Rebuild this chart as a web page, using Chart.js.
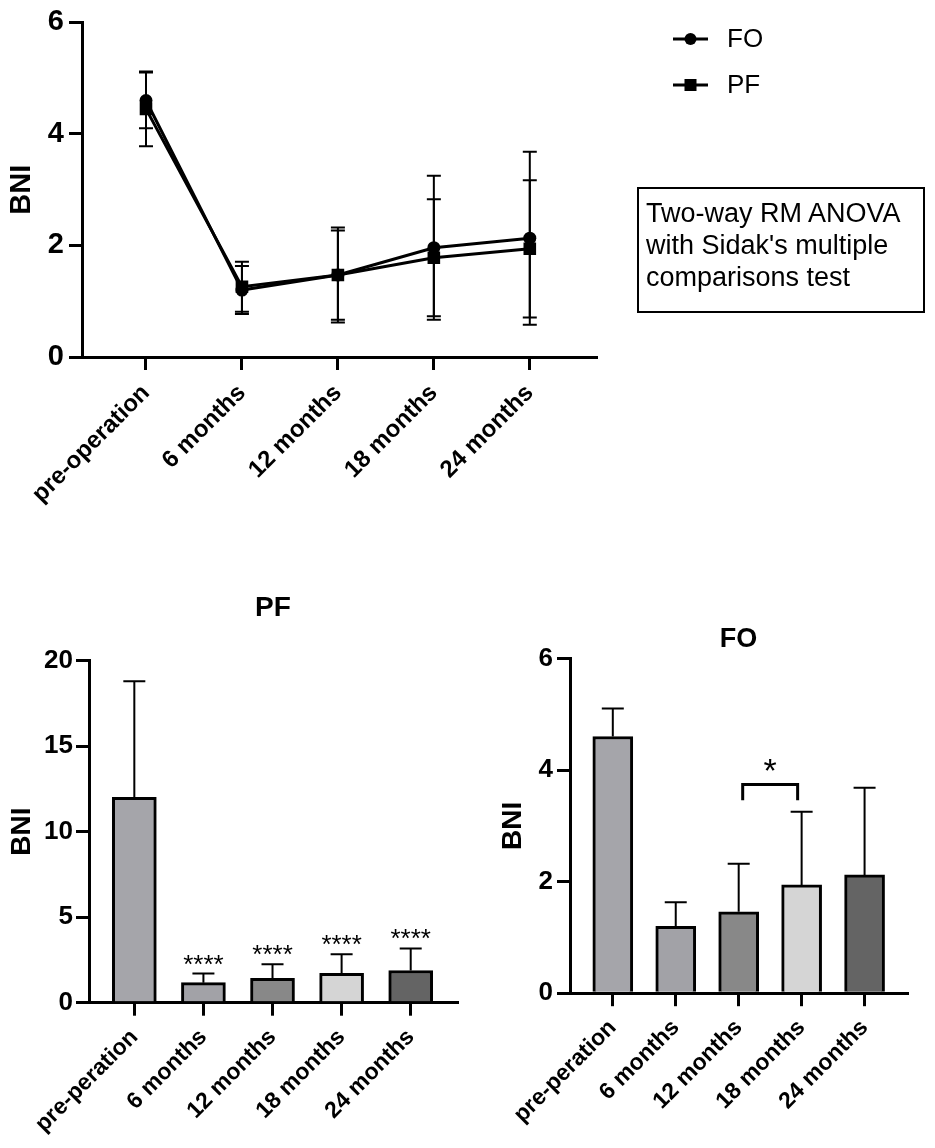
<!DOCTYPE html>
<html>
<head>
<meta charset="utf-8">
<script src="https://cdn.jsdelivr.net/npm/chart.js@4.4.1/dist/chart.umd.min.js"></script>
<style>
  html, body { margin:0; padding:0; background:#fff; width:935px; height:1148px; overflow:hidden; }
  body { position:relative; font-family:'Liberation Sans', Arial, Helvetica, sans-serif; }
  canvas { position:absolute; }
  #cTop { left:0; top:0; }
  #cPF { left:0; top:580px; }
  #cFO { left:480px; top:580px; }
  #note { position:absolute; left:637px; top:187px; width:288px; height:126px; box-sizing:border-box;
          border:2px solid #000; padding:8px 0 0 7px; font-size:27px; line-height:32px; color:#000; white-space:nowrap; }
</style>
</head>
<body>
<canvas id="cTop" width="935" height="560" style="width:935px;height:560px"></canvas>
<canvas id="cPF" width="490" height="568" style="width:490px;height:568px"></canvas>
<canvas id="cFO" width="455" height="568" style="width:455px;height:568px"></canvas>
<div id="note">Two-way RM ANOVA<br>with Sidak's multiple<br>comparisons test</div>
<script>
// ---------------- data ----------------
const topCategories = ['pre-operation', '6 months', '12 months', '18 months', '24 months'];
const barCategories = ['pre-peration', '6 months', '12 months', '18 months', '24 months'];
const seriesNames = ['FO', 'PF'];

// line chart (mean, SD)
const foLineMean = [4.6, 1.2, 1.47, 1.96, 2.13];
const foLineSD   = [0.5, 0.43, 0.85, 1.29, 1.55];
const pfLineMean = [4.45, 1.26, 1.47, 1.78, 1.94];
const pfLineSD   = [0.67, 0.45, 0.8, 1.05, 1.23];

// PF bar chart
const pfBarMean = [12, 1.17, 1.42, 1.72, 1.88];
const pfBarSD   = [6.8, 0.53, 0.83, 1.11, 1.29];
const pfSignif  = ['', '****', '****', '****', '****'];

// FO bar chart
const foBarMean = [4.6, 1.2, 1.46, 1.94, 2.12];
const foBarSD   = [0.5, 0.43, 0.86, 1.31, 1.56];
const foBracketFrom = 2, foBracketTo = 3, foBracketTop = 3.74, foBracketLeg = 3.46, foBracketLabel = '*';

// tick values
const yTicksTop = [0, 2, 4, 6];
const yTicksPF  = [0, 5, 10, 15, 20];
const yTicksFO  = [0, 2, 4, 6];

// ---------------- styles ----------------
const barFill = ['#a5a5aa', '#a2a2a7', '#888888', '#d5d5d5', '#646464'];
const FONT = "'Liberation Sans', Arial, Helvetica, sans-serif";
Chart.defaults.font.family = FONT;
Chart.defaults.color = '#000';

const pts = arr => arr.map((v, i) => ({ x: i, y: v }));

function xAxis(cats, min, max, size, height, pad) {
  return {
    type: 'linear', min, max, offset: false,
    afterBuildTicks: ax => { ax.ticks = cats.map((_, i) => ({ value: i })); },
    afterFit: s => { s.height = height; },
    ticks: { callback: v => cats[v], autoSkip: false, maxRotation: 45, minRotation: 45,
             color: '#000', font: { size, weight: 'bold' }, padding: pad },
    grid: { offset: false, drawOnChartArea: false, drawTicks: true, tickLength: 13, color: '#000', lineWidth: 3 },
    border: { display: true, color: '#000', width: 3 }
  };
}
function yAxis(tickVals, size, width, titleSize, titlePad, tickPad) {
  return {
    type: 'linear', min: tickVals[0], max: tickVals[tickVals.length - 1],
    afterBuildTicks: ax => { ax.ticks = tickVals.map(v => ({ value: v })); },
    afterFit: s => { s.width = width; },
    ticks: { color: '#000', font: { size, weight: 'bold' }, padding: tickPad },
    grid: { drawOnChartArea: false, drawTicks: true, tickLength: 13, color: '#000', lineWidth: 3 },
    border: { display: true, color: '#000', width: 3 },
    title: { display: true, text: 'BNI', color: '#000', font: { size: titleSize, weight: 'bold' },
             padding: { top: titlePad, bottom: 0 } }
  };
}

function errorBars(id, sdArrays, opts) {
  const hook = opts.before ? 'beforeDatasetsDraw' : 'afterDatasetsDraw';
  return {
    id,
    [hook](chart) {
      const ctx = chart.ctx, ys = chart.scales.y;
      chart.data.datasets.forEach((ds, di) => {
        const meta = chart.getDatasetMeta(di);
        const sd = sdArrays[di];
        meta.data.forEach((el, i) => {
          const v = ds.data[i].y;
          const x = el.x;
          const yT = ys.getPixelForValue(v + sd[i]);
          const yB = ys.getPixelForValue(opts.upOnly ? v : v - sd[i]);
          ctx.save();
          ctx.strokeStyle = '#000';
          ctx.lineWidth = opts.lineWidth;
          ctx.beginPath();
          ctx.moveTo(x, yT); ctx.lineTo(x, yB);
          ctx.moveTo(x - opts.cap / 2, yT); ctx.lineTo(x + opts.cap / 2, yT);
          if (!opts.upOnly) { ctx.moveTo(x - opts.cap / 2, yB); ctx.lineTo(x + opts.cap / 2, yB); }
          ctx.stroke();
          ctx.restore();
        });
      });
    }
  };
}

// ---------------- top line chart ----------------
const legendPlugin = {
  id: 'sideLegend',
  afterDraw(chart) {
    const ctx = chart.ctx;
    chart.data.datasets.forEach((ds, i) => {
      const y = 39 + i * 46;
      ctx.save();
      ctx.strokeStyle = '#000'; ctx.fillStyle = '#000'; ctx.lineWidth = 3;
      ctx.beginPath(); ctx.moveTo(673, y); ctx.lineTo(708, y); ctx.stroke();
      if (ds.pointStyle === 'rect') { ctx.fillRect(684.5, y - 6, 12, 12); }
      else { ctx.beginPath(); ctx.arc(690.5, y, 6, 0, Math.PI * 2); ctx.fill(); }
      ctx.font = '26px ' + FONT;
      ctx.textBaseline = 'middle'; ctx.textAlign = 'left';
      ctx.fillText(ds.label, 727, y + 1);
      ctx.restore();
    });
  }
};

new Chart(document.getElementById('cTop'), {
  type: 'line',
  data: {
    datasets: [
      { label: seriesNames[0], data: pts(foLineMean), borderColor: '#000', backgroundColor: '#000', borderWidth: 3,
        pointStyle: 'circle', pointRadius: 6.5, pointBackgroundColor: '#000', pointBorderColor: '#000', pointBorderWidth: 0, tension: 0 },
      { label: seriesNames[1], data: pts(pfLineMean), borderColor: '#000', backgroundColor: '#000', borderWidth: 3,
        pointStyle: 'rect', pointRadius: 8.9, pointBackgroundColor: '#000', pointBorderColor: '#000', pointBorderWidth: 0, tension: 0 }
    ]
  },
  options: {
    responsive: false, animation: false, devicePixelRatio: 1,
    layout: { padding: { left: 0, top: 16, right: 935 - 596, bottom: 0 } },
    plugins: { legend: { display: false }, tooltip: { enabled: false }, title: { display: false } },
    scales: {
      x: xAxis(topCategories, -0.667, 4.69, 24, 203, 9),
      y: yAxis(yTicksTop, 29, 82, 29, 5, 5)
    }
  },
  plugins: [errorBars('errTop', [foLineSD, pfLineSD], { before: true, upOnly: false, cap: 14, lineWidth: 2 }), legendPlugin]
});

// ---------------- PF bar chart ----------------
const pfStars = {
  id: 'pfStars',
  afterDatasetsDraw(chart) {
    const ctx = chart.ctx, ys = chart.scales.y;
    const meta = chart.getDatasetMeta(0);
    ctx.save();
    ctx.fillStyle = '#000'; ctx.font = '26px ' + FONT;
    ctx.textAlign = 'center'; ctx.textBaseline = 'alphabetic';
    meta.data.forEach((el, i) => {
      if (!pfSignif[i]) return;
      ctx.fillText(pfSignif[i], el.x, ys.getPixelForValue(pfBarMean[i] + pfBarSD[i]) - 1);
    });
    ctx.restore();
  }
};

new Chart(document.getElementById('cPF'), {
  type: 'bar',
  data: {
    datasets: [{ label: 'PF', data: pts(pfBarMean), backgroundColor: barFill, borderColor: '#000',
                 borderWidth: 3, borderSkipped: 'start', barThickness: 44 }]
  },
  options: {
    responsive: false, animation: false, devicePixelRatio: 1,
    layout: { padding: { left: 0, top: 0, right: 490 - 457, bottom: 0 } },
    plugins: {
      legend: { display: false }, tooltip: { enabled: false },
      title: { display: true, text: 'PF', fullSize: false, color: '#000', font: { size: 28, weight: 'bold' },
               padding: { top: 11, bottom: 36 } }
    },
    scales: {
      x: xAxis(barCategories, -0.656, 4.67, 23, 145.3, 8),
      y: yAxis(yTicksPF, 26, 89, 28, 5, 3)
    }
  },
  plugins: [errorBars('errPF', [pfBarSD], { before: false, upOnly: true, cap: 22, lineWidth: 2 }), pfStars]
});

// ---------------- FO bar chart ----------------
const foBracket = {
  id: 'foBracket',
  afterDatasetsDraw(chart) {
    const ctx = chart.ctx, xs = chart.scales.x, ys = chart.scales.y;
    const x1 = xs.getPixelForValue(foBracketFrom) + 4;
    const x2 = xs.getPixelForValue(foBracketTo) - 4;
    const yT = ys.getPixelForValue(foBracketTop);
    const yL = ys.getPixelForValue(foBracketLeg);
    ctx.save();
    ctx.strokeStyle = '#000'; ctx.lineWidth = 3; ctx.lineJoin = 'miter';
    ctx.beginPath(); ctx.moveTo(x1, yL); ctx.lineTo(x1, yT); ctx.lineTo(x2, yT); ctx.lineTo(x2, yL); ctx.stroke();
    ctx.fillStyle = '#000'; ctx.font = '34px ' + FONT; ctx.textAlign = 'center'; ctx.textBaseline = 'alphabetic';
    ctx.fillText(foBracketLabel, (x1 + x2) / 2, yT - 3);
    ctx.restore();
  }
};

new Chart(document.getElementById('cFO'), {
  type: 'bar',
  data: {
    datasets: [{ label: 'FO', data: pts(foBarMean), backgroundColor: barFill, borderColor: '#000',
                 borderWidth: 3, borderSkipped: 'start', barThickness: 40 }]
  },
  options: {
    responsive: false, animation: false, devicePixelRatio: 1,
    layout: { padding: { left: 0, top: 0, right: 455 - 427, bottom: 0 } },
    plugins: {
      legend: { display: false }, tooltip: { enabled: false },
      title: { display: true, text: 'FO', fullSize: false, color: '#000', font: { size: 27, weight: 'bold' },
               padding: { top: 43, bottom: 3 } }
    },
    scales: {
      x: xAxis(barCategories, -0.68, 4.674, 23, 154.8, 8),
      y: yAxis(yTicksFO, 26, 90, 28, 16, 4)
    }
  },
  plugins: [errorBars('errFO', [foBarSD], { before: false, upOnly: true, cap: 22, lineWidth: 2 }), foBracket]
});
</script>
</body>
</html>
